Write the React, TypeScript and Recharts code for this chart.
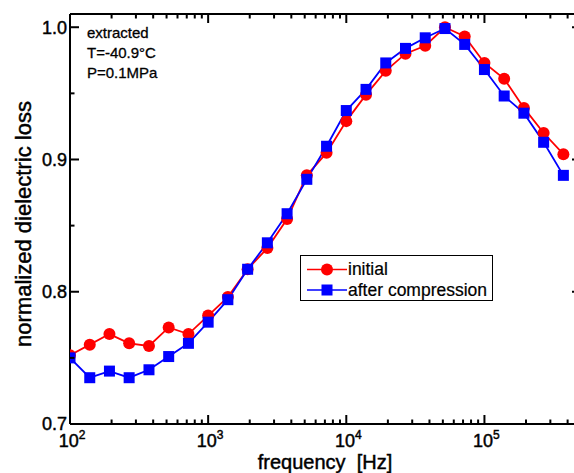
import React from 'react';
import { LineChart, Line, XAxis, YAxis, Customized } from 'recharts';

const frequencies = [100, 139, 193, 268, 373, 518, 720, 1000, 1389, 1931, 2683, 3728, 5179, 7197, 10000, 13895, 19307, 26827, 37276, 51795, 71969, 100000, 138950, 193070, 268270, 372760];
const initialLoss = [0.752, 0.760, 0.768, 0.761, 0.759, 0.773, 0.768, 0.782, 0.796, 0.817, 0.833, 0.855, 0.888, 0.905, 0.929, 0.949, 0.967, 0.980, 0.986, 1.000, 0.993, 0.973, 0.961, 0.939, 0.920, 0.904];
const afterCompressionLoss = [0.750, 0.735, 0.740, 0.735, 0.741, 0.751, 0.761, 0.777, 0.794, 0.817, 0.837, 0.859, 0.885, 0.910, 0.937, 0.953, 0.973, 0.984, 0.992, 0.999, 0.987, 0.968, 0.948, 0.935, 0.913, 0.888];

const xMajorTicks = [100, 1000, 10000, 100000];
const xMajorExponents = ['2', '3', '4', '5'];
const xMinorTicks = [200, 300, 400, 500, 600, 700, 800, 900, 2000, 3000, 4000, 5000, 6000, 7000, 8000, 9000, 20000, 30000, 40000, 50000, 60000, 70000, 80000, 90000, 200000, 300000, 400000];
const yMajorTicks = [0.7, 0.8, 0.9, 1.0];
const yMajorLabels = ['0.7', '0.8', '0.9', '1.0'];
const yMinorTicks = [0.75, 0.85, 0.95];
const annotationLines = ['extracted', 'T=-40.9°C', 'P=0.1MPa'];
const seriesNames = ['initial', 'after compression'];
const xTitle = 'frequency  [Hz]';
const yTitle = 'normalized dielectric loss';

const RED = '#ff0000';
const BLUE = '#0000ff';
const FONT = '"Liberation Sans", Arial, sans-serif';
const TXT = { fontFamily: FONT, fill: '#000', stroke: '#000', strokeWidth: 0.45 };

const data = frequencies.map((f, i) => ({ f, initial: initialLoss[i], after: afterCompressionLoss[i] }));
const allXTicks = [...xMajorTicks, ...xMinorTicks].sort((a, b) => a - b);
const allYTicks = [...yMajorTicks, ...yMinorTicks].sort((a, b) => a - b);

const isMajorX = (v: number) => xMajorTicks.indexOf(v) >= 0;
const isMajorY = (v: number) => yMajorTicks.some((t) => Math.abs(t - v) < 1e-9);

const BottomTick = (props: any) => {
  const { x, y, payload } = props;
  const idx = xMajorTicks.indexOf(payload.value);
  const major = idx >= 0;
  return (
    <g>
      <line x1={x} x2={x} y1={y} y2={y - (major ? 9 : 4.5)} stroke="#000" strokeWidth={2} />
      {major && (
        <text x={x + 2} y={y + 23} textAnchor="middle" fontSize={18} {...TXT}>
          10<tspan dy={-8} fontSize={12}>{xMajorExponents[idx]}</tspan>
        </text>
      )}
    </g>
  );
};

const TopTick = (props: any) => {
  const { x, y, payload } = props;
  const major = isMajorX(payload.value);
  return <line x1={x} x2={x} y1={y} y2={y + (major ? 9 : 4.5)} stroke="#000" strokeWidth={2} />;
};

const LeftTick = (props: any) => {
  const { x, y, payload } = props;
  const idx = yMajorTicks.findIndex((t) => Math.abs(t - payload.value) < 1e-9);
  const major = idx >= 0;
  return (
    <g>
      <line x1={x} x2={x + (major ? 9 : 4.5)} y1={y} y2={y} stroke="#000" strokeWidth={2} />
      {major && (
        <text x={x - 3} y={y} dy="0.36em" textAnchor="end" fontSize={18} {...TXT}>
          {yMajorLabels[idx]}
        </text>
      )}
    </g>
  );
};

const RightTick = (props: any) => {
  const { x, y, payload } = props;
  const major = isMajorY(payload.value);
  return <line x1={x} x2={x - (major ? 9 : 4.5)} y1={y} y2={y} stroke="#000" strokeWidth={2} />;
};

const SquareDot = (props: any) => {
  const { cx, cy, index } = props;
  if (cx == null || cy == null) return null;
  return <rect key={`sq-${index}`} x={cx - 5.5} y={cy - 5.5} width={11} height={11} fill={BLUE} />;
};

const CircleDot = (props: any) => {
  const { cx, cy, index } = props;
  if (cx == null || cy == null) return null;
  return <circle key={`c-${index}`} cx={cx} cy={cy} r={6} fill={RED} />;
};

const Overlay = () => (
  <g>
    {annotationLines.map((t, i) => (
      <text key={t} x={87} y={38 + i * 20} fontSize={15} {...TXT} strokeWidth={0.3}>
        {t}
      </text>
    ))}
    <text x={325} y={469} textAnchor="middle" fontSize={20} {...TXT} style={{ whiteSpace: 'pre' }}>
      {xTitle}
    </text>
    <text transform="translate(31,224) rotate(-90)" textAnchor="middle" fontSize={22} {...TXT}>
      {yTitle}
    </text>
    <rect x={300.5} y={255.5} width={192} height={45} fill="#fff" stroke="#000" strokeWidth={1} />
    <line x1={307} x2={347} y1={269.5} y2={269.5} stroke={RED} strokeWidth={1.5} />
    <circle cx={327} cy={269.5} r={6} fill={RED} />
    <text x={348} y={275} fontSize={17.5} {...TXT} strokeWidth={0.2}>
      {seriesNames[0]}
    </text>
    <line x1={307} x2={347} y1={290} y2={290} stroke={BLUE} strokeWidth={1.5} />
    <rect x={321.5} y={284.5} width={11} height={11} fill={BLUE} />
    <text x={348} y={295.5} fontSize={17.5} {...TXT} strokeWidth={0.2}>
      {seriesNames[1]}
    </text>
  </g>
);

export default function App() {
  const axisLine = { stroke: '#000', strokeWidth: 2 };
  return (
    <div style={{ position: 'fixed', left: 0, top: 0, width: 574, height: 473, overflow: 'hidden', background: '#fff' }}>
      <LineChart width={600} height={473} data={data} margin={{ top: 0, right: 0, bottom: 0, left: 0 }}>
        <XAxis
          xAxisId="b"
          dataKey="f"
          type="number"
          scale="log"
          domain={[100, 500000]}
          allowDataOverflow
          ticks={allXTicks}
          interval={0}
          tickLine={false}
          tickSize={0}
          tickMargin={0}
          axisLine={axisLine}
          height={49}
          tick={(p: any) => <BottomTick {...p} />}
        />
        <XAxis
          xAxisId="t"
          orientation="top"
          dataKey="f"
          type="number"
          scale="log"
          domain={[100, 500000]}
          allowDataOverflow
          ticks={allXTicks}
          interval={0}
          tickLine={false}
          tickSize={0}
          tickMargin={0}
          axisLine={axisLine}
          height={14}
          tick={(p: any) => <TopTick {...p} />}
        />
        <YAxis
          yAxisId="l"
          type="number"
          domain={[0.7, 1.01]}
          allowDataOverflow
          ticks={allYTicks}
          interval={0}
          tickLine={false}
          tickSize={0}
          tickMargin={0}
          axisLine={axisLine}
          width={70}
          tick={(p: any) => <LeftTick {...p} />}
        />
        <YAxis
          yAxisId="r"
          orientation="right"
          type="number"
          domain={[0.7, 1.01]}
          allowDataOverflow
          ticks={allYTicks}
          interval={0}
          tickLine={false}
          tickSize={0}
          tickMargin={0}
          axisLine={axisLine}
          width={19}
          tick={(p: any) => <RightTick {...p} />}
        />
        <Line
          xAxisId="b"
          yAxisId="l"
          dataKey="initial"
          stroke={RED}
          strokeWidth={1.8}
          dot={(p: any) => <CircleDot {...p} />}
          activeDot={false}
          isAnimationActive={false}
        />
        <Line
          xAxisId="b"
          yAxisId="l"
          dataKey="after"
          stroke={BLUE}
          strokeWidth={1.8}
          dot={(p: any) => <SquareDot {...p} />}
          activeDot={false}
          isAnimationActive={false}
        />
        <Customized component={Overlay} />
      </LineChart>
    </div>
  );
}
